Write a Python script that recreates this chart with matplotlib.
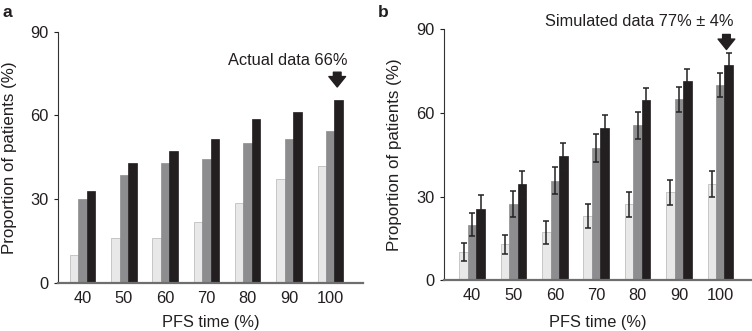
import matplotlib
matplotlib.use("Agg")
import matplotlib.pyplot as plt
import numpy as np

plt.rcParams["font.family"] = ["Liberation Sans", "DejaVu Sans"]

# 数据
pfs_time = ["40", "50", "60", "70", "80", "90", "100"]

actual_light = [10, 16, 16, 21.6, 28.7, 37.3, 41.7]
actual_gray = [30, 38.6, 42.8, 44.5, 50, 51.6, 54.5]
actual_black = [33, 42.8, 47.2, 51.5, 58.6, 61.4, 65.7]

sim_light = [10, 12.8, 17.1, 22.9, 27.2, 31.5, 34.5]
sim_light_err = [3.2, 3.3, 4.1, 4.3, 4.4, 4.4, 4.5]
sim_gray = [19.9, 27.3, 35.7, 47.4, 55.6, 64.9, 70]
sim_gray_err = [4.2, 4.7, 4.8, 5.1, 4.8, 4.5, 4.4]
sim_black = [25.6, 34.5, 44.4, 54.5, 64.5, 71.6, 77.3]
sim_black_err = [4.8, 4.7, 4.9, 4.8, 4.6, 4.2, 4.1]

yticks = [0, 30, 60, 90]

LIGHT = "#e8e8e8"
GRAY = "#8d8d8f"
BLACK = "#231f20"
TXT = "#231f20"
W = 0.205
FS = 11.8
ARROW = "simple,head_width=1.2,head_length=0.75,tail_width=0.55"


def style_axes(ax, xlim, ylab_x, xlab_y):
    ax.set_xlim(*xlim)
    ax.set_ylim(0, 90)
    ax.set_yticks(yticks)
    ax.set_xticks(np.arange(len(pfs_time)))
    ax.set_xticklabels(pfs_time)
    ax.tick_params(axis="x", length=0, pad=6, labelsize=FS, colors=TXT)
    ax.tick_params(axis="y", length=3, width=0.8, pad=4, labelsize=FS, colors=TXT)
    ax.spines["top"].set_visible(False)
    ax.spines["right"].set_visible(False)
    ax.spines["left"].set_linewidth(0.8)
    ax.spines["left"].set_color("#333333")
    ax.spines["bottom"].set_linewidth(1.6)
    ax.spines["bottom"].set_color("#6e6e6e")
    ax.set_xlabel("PFS time (%)", fontsize=FS, color=TXT, va="center")
    ax.set_ylabel("Proportion of patients (%)", fontsize=FS + 0.4, color=TXT, va="center")
    ax.yaxis.set_label_coords(ylab_x, 0.5)
    ax.xaxis.set_label_coords(0.5, xlab_y)


def draw_bars(ax, series, errs=None):
    x = np.arange(len(pfs_time))
    colors = [LIGHT, GRAY, BLACK]
    edges = ["#b5b5b5", GRAY, BLACK]
    for i, vals in enumerate(series):
        xi = x + (i - 1) * W
        ax.bar(xi, vals, W, color=colors[i], edgecolor=edges[i], linewidth=0.5, zorder=2)
        if errs is not None:
            ax.errorbar(xi, vals, yerr=errs[i], fmt="none", ecolor="#222222",
                        elinewidth=1.1, capsize=2.5, capthick=1.1, zorder=3)


fig = plt.figure(figsize=(7.52, 3.31), dpi=100)
ax1 = fig.add_axes([0.077, 0.146, 0.406, 0.758])
ax2 = fig.add_axes([0.591, 0.154, 0.408, 0.757])

# 面板 a
draw_bars(ax1, [actual_light, actual_gray, actual_black])
style_axes(ax1, (-0.6, 6.8), -0.157, -0.157)
ax1.text(4.98, 78, "Actual data 66%", ha="center", va="baseline", fontsize=FS, color=TXT)
ax1.annotate("", xy=(6.17, 70.2), xytext=(6.17, 75.5),
             arrowprops=dict(arrowstyle=ARROW, color=BLACK, shrinkA=0, shrinkB=0))

# 面板 b
draw_bars(ax2, [sim_light, sim_gray, sim_black],
          errs=[sim_light_err, sim_gray_err, sim_black_err])
style_axes(ax2, (-0.67, 6.75), -0.164, -0.168)
ax2.text(4.04, 91.2, "Simulated data 77% \u00b1 4%", ha="center", va="baseline",
         fontsize=FS, color=TXT, clip_on=False)
ax2.annotate("", xy=(6.15, 82.8), xytext=(6.15, 88.2),
             arrowprops=dict(arrowstyle=ARROW, color=BLACK, shrinkA=0, shrinkB=0))

fig.text(0.003, 0.985, "a", fontsize=12.5, fontweight="bold", va="top", ha="left", color=TXT)
fig.text(0.503, 0.985, "b", fontsize=12.5, fontweight="bold", va="top", ha="left", color=TXT)

fig.savefig("out.png", dpi=100)
